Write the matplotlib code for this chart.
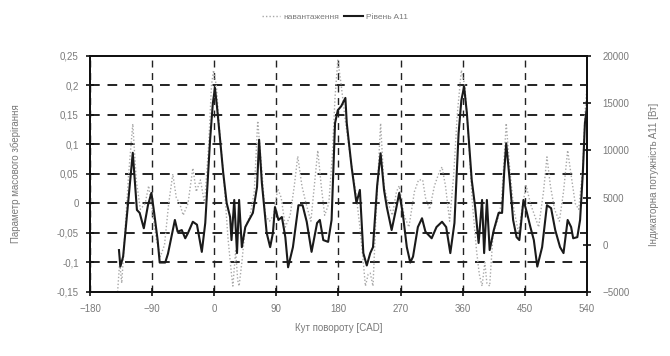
import matplotlib
matplotlib.use("Agg")
import matplotlib.pyplot as plt
from matplotlib.lines import Line2D
from matplotlib.ticker import FuncFormatter

plt.rcParams["font.family"] = ["Liberation Sans", "DejaVu Sans"]

# dotted series, left axis
load_angle = [-140, -137, -134, -130, -124, -118, -113, -107, -100, -95, -90, -84, -78, -72,
              -66, -60, -55, -50, -45, -38, -31, -26, -20, -14, -8, -4, -1, 3, 8, 14, 20, 25,
              27, 31, 34, 36, 40, 45, 52, 58, 63, 68, 74, 80, 86, 92, 97, 103, 110, 116, 121,
              127, 133, 140, 145, 150, 155, 160, 166, 171, 175, 179, 184, 190, 197, 205, 211,
              216, 219, 223, 226, 230, 234, 241, 246, 252, 258, 264, 268, 275, 282, 290, 296,
              302, 306, 312, 319, 325, 330, 335, 341, 347, 352, 358, 363, 368, 374, 380, 384,
              388, 392, 395, 399, 404, 410, 416, 423, 428, 434, 441, 447, 452, 458, 464, 470,
              477, 482, 487, 493, 500, 506, 512, 518, 523, 528, 534, 537, 540]
load_value = [-0.15, -0.1, -0.135, -0.06, 0.05, 0.135, 0.04, -0.01, 0.0, 0.03, -0.01, -0.06,
              -0.09, -0.07, 0.0, 0.05, 0.01, 0.0, -0.02, 0.0, 0.06, 0.02, 0.04, 0.0, 0.1, 0.2,
              0.226, 0.2, 0.12, 0.04, -0.06, -0.12, -0.14, -0.08, -0.13, -0.14, -0.1, -0.04,
              -0.02, 0.02, 0.14, 0.07, -0.02, -0.03, -0.02, 0.025, 0.01, -0.04, -0.02, 0.03,
              0.08, 0.03, 0.0, -0.03, 0.03, 0.09, 0.03, -0.02, 0.0, 0.08, 0.18, 0.243, 0.2, 0.14,
              0.08, 0.02, -0.04, -0.1, -0.14, -0.12, -0.118, -0.14, -0.03, 0.136, 0.03, 0.0,
              -0.02, 0.02, 0.03, -0.02, -0.04, 0.02, 0.04, 0.04, 0.01, -0.01, 0.03, 0.05, 0.062,
              0.03, -0.03, 0.05, 0.15, 0.226, 0.2, 0.12, 0.0, -0.08, -0.12, -0.14, -0.1, -0.135,
              -0.14, -0.05, -0.03, 0.0, 0.136, 0.06, -0.01, -0.05, 0.0, 0.03, 0.0, -0.02, -0.04,
              0.02, 0.079, 0.03, -0.01, -0.03, 0.02, 0.09, 0.04, 0.0, -0.01, 0.06, 0.15, 0.2]

# solid series, right axis
a11_angle = [-138, -136, -132, -118, -112, -108, -102, -96, -91, -87, -82, -79, -71, -67, -57,
             -53, -47, -42, -38, -31, -25, -18, -13, -6, -2, 1, 4, 13, 18, 23, 25, 29, 33, 36,
             40, 45, 49, 56, 62, 65, 69, 76, 81, 85, 88, 93, 98, 103, 107, 114, 122, 128, 134,
             141, 149, 153, 158, 165, 170, 175, 179, 184, 190, 192, 199, 206, 211, 216, 221,
             226, 230, 236, 241, 246, 250, 257, 264, 268, 273, 279, 284, 288, 295, 301, 306,
             315, 322, 330, 336, 342, 348, 354, 358, 362, 366, 373, 378, 383, 388, 391, 395,
             399, 405, 412, 417, 420, 423, 428, 433, 438, 442, 448, 453, 458, 463, 468, 475,
             482, 488, 494, 501, 506, 512, 517, 520, 526, 530, 534, 537, 540]
a11_value = [-560, -2310, -1250, 9750, 3690, 3380, 1750, 4190, 5500, 3380, 500, -1880, -1880,
             -940, 2630, 1380, 1560, 690, 1250, 2440, 2130, -750, 2310, 11130, 15000, 16630,
             14630, 7630, 4440, 2940, 500, 4750, -880, 4750, -250, 1880, 2440, 3380, 6130,
             11130, 6560, 1250, -250, 1250, 4000, 2630, 2940, 810, -2380, -250, 4190, 4190,
             2440, -750, 2310, 2630, 500, 310, 2630, 12880, 14250, 14690, 15560, 12880, 8250,
             4440, 5810, -880, -2190, -880, -250, 6250, 9690, 5810, 4000, 1560, 4000, 5500,
             3380, -250, -1880, -1250, 1880, 2810, 1380, 690, 1880, 2440, 1880, -880, 2310,
             11810, 15310, 16750, 13940, 6880, 4000, 190, 4750, -880, 4750, -560, 1560, 3380,
             3380, 7630, 10750, 6880, 2630, 810, 500, 4750, 3380, 1880, 500, -2310, -250, 4190,
             3880, 1560, -250, -880, 2630, 1880, 690, 810, 2630, 7630, 12880, 14630]

x_ticks = [-180, -90, 0, 90, 180, 270, 360, 450, 540]
left_ticks = [-0.15, -0.1, -0.05, 0, 0.05, 0.1, 0.15, 0.2, 0.25]
right_ticks = [-5000, 0, 5000, 10000, 15000, 20000]

label_color = "#7a7a7a"
dot_color = "#a8a8a8"

fig = plt.figure(figsize=(6.7, 3.56), dpi=100)
ax = fig.add_axes([0.1343, 0.1798, 0.7418, 0.6629])
ax2 = ax.twinx()

ax.plot(load_angle, load_value, color=dot_color, linestyle=(0, (1, 1.5)), linewidth=1.0, zorder=2)
ax2.plot(a11_angle, a11_value, color="#1a1a1a", linewidth=1.5, zorder=3)

ax.set_xlim(-180, 540)
ax.set_ylim(-0.15, 0.25)
ax2.set_ylim(-5000, 20000)
ax.set_xticks(x_ticks)
ax.set_yticks(left_ticks)
ax2.set_yticks(right_ticks)

ax.yaxis.set_major_formatter(FuncFormatter(lambda v, p: ("%g" % round(v, 2)).replace(".", ",")))
ax.grid(True, axis="y", color="#222222", linestyle=(0, (5, 4)), linewidth=1.4)
ax.grid(True, axis="x", color="#222222", linestyle=(0, (5, 4)), linewidth=1.0)

for a in (ax, ax2):
    for s in a.spines.values():
        s.set_linewidth(1.4)
        s.set_color("#111111")
    a.tick_params(direction="inout", length=6, width=1.2, color="#111111",
                  labelsize=7, labelcolor=label_color)
ax.tick_params(axis="y", pad=5)
ax.tick_params(axis="x", pad=6)
ax2.tick_params(axis="y", pad=8)

ax.set_xlabel("Кут повороту [CAD]", fontsize=7, color=label_color, labelpad=6)
ax.set_ylabel("Параметр масового зберігання", fontsize=7, color=label_color, labelpad=26)
ax2.set_ylabel("Індикаторна потужність A11 [Вт]", fontsize=7, color=label_color, labelpad=14)

handles = [Line2D([], [], color=dot_color, linestyle=(0, (1, 1.5)), linewidth=1.0),
           Line2D([], [], color="#1a1a1a", linewidth=1.5)]
fig.legend(handles, ["навантаження", "Рівень A11"], loc="upper center",
           bbox_to_anchor=(0.5, 0.985), ncol=2, frameon=False, fontsize=6,
           labelcolor=label_color, handlelength=2.2, columnspacing=0.6, handletextpad=0.4)

fig.savefig("out.png", dpi=100)
